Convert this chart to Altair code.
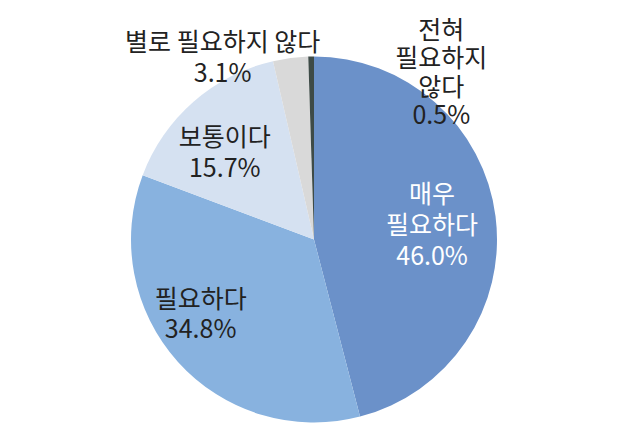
import altair as alt
import pandas as pd

categories = ["매우 필요하다", "필요하다", "보통이다", "별로 필요하지 않다", "전혀 필요하지 않다"]
values = [46.0, 34.8, 15.7, 3.1, 0.5]
label_names = ["매우\n필요하다", "필요하다", "보통이다", "별로 필요하지 않다", "전혀\n필요하지\n않다"]
colors = ["#6b91c9", "#88b2df", "#d5e1f1", "#d9d9d9", "#3e4b47"]

df = pd.DataFrame({
    "idx": list(range(len(categories))),
    "cat": categories,
    "value": values,
    "label": [f"{n}\n{v:.1f}%" for n, v in zip(label_names, values)],
})

FONT = "Noto Sans CJK KR"

arc = alt.Chart(df).mark_arc(radius=183).encode(
    theta=alt.Theta("value:Q", stack=True),
    color=alt.Color("cat:N", scale=alt.Scale(domain=categories, range=colors), legend=None),
    order=alt.Order("idx:Q"),
)

base = alt.Chart(df).transform_window(
    cum="sum(value)", sort=[alt.SortField("idx")]
).transform_calculate(mid="datum.cum - datum.value / 2")

# label placement: (radius, dx, dy, line height, color)
placement = [
    (118, 1, -30, 31, "#ffffff"),
    (135, -13, -30, 30, "#222222"),
    (128, -5, -5, 31, "#222222"),
    (190, -67, -8, 31, "#222222"),
    (172, 130, -37, 28.5, "#222222"),
]

layers = [arc]
for i, (r, dx, dy, lh, col) in enumerate(placement):
    layers.append(
        base.transform_filter(alt.datum.idx == i).mark_text(
            radius=r, dx=dx, dy=dy, font=FONT, fontSize=25, lineHeight=lh,
            lineBreak="\n", align="center", baseline="middle", color=col,
        ).encode(theta=alt.Theta("mid:Q", stack=False), text="label:N")
    )

chart = alt.layer(*layers).properties(
    width=628, height=399,
    padding={"top": 40, "left": 0, "right": 0, "bottom": 0},
    autosize="none",
    background="white",
).configure_view(stroke=None)

chart.save("out.html", embed_options={"renderer": "svg", "actions": False})
